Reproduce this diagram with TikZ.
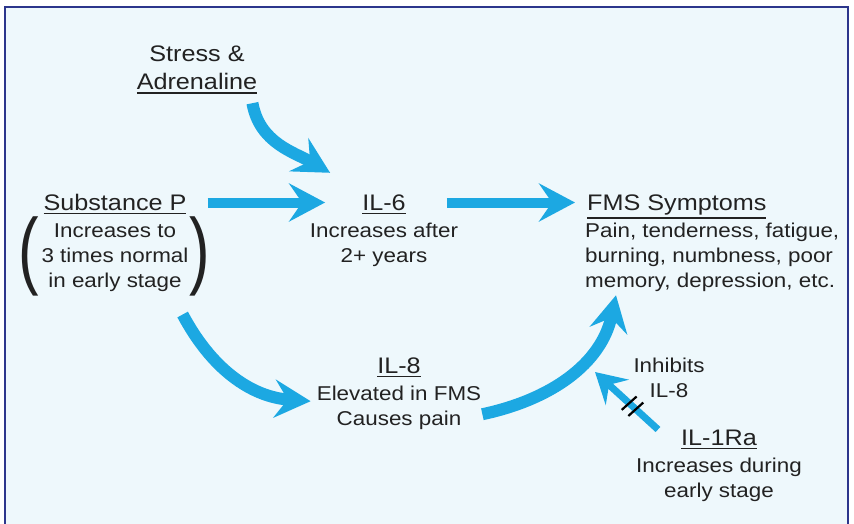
\documentclass[tikz,border=0pt]{standalone}
\usepackage{fontspec}
\setmainfont{Liberation Sans}[FakeStretch=1.12]
\usepackage{graphicx}
\usetikzlibrary{arrows.meta, positioning, decorations.markings}

\definecolor{bgblue}{RGB}{238,248,252}
\definecolor{framenavy}{RGB}{44,54,140}
\definecolor{flowblue}{RGB}{28,168,226}
\definecolor{textgray}{RGB}{34,34,34}

% underlined heading text
\newcommand{\ulhead}[1]{\setbox0\hbox{#1}\rlap{\raisebox{\dimexpr-\dp0-4pt\relax}[0pt][0pt]{\rule{\wd0}{1.6pt}}}\box0}

\begin{document}
\begin{tikzpicture}[
        x=1pt, y=1pt,
        every node/.style={inner sep=0pt, text=textgray},
        head/.style={font=\fontsize{22.5}{28}\selectfont, text height=15pt, text depth=0pt, anchor=base},
        body/.style={font=\fontsize{20}{25}\selectfont, align=center},
        paren/.style={font=\fontsize{55}{55}\selectfont},
        flow/.style={color=flowblue, line width=10pt, -{Stealth[length=36pt, width=38pt, inset=13pt]}},
        curvedflow/.style={flow, line width=12pt},
        inhibit/.style={color=flowblue, line width=7pt, -{Stealth[length=30pt, width=34pt, inset=11pt]},
            postaction={decorate},
            decoration={markings, mark=at position 0.4 with {
                \draw[black, line width=2.2pt, -] (-5pt,-10pt) -- (-3pt,10pt);
                \draw[black, line width=2.2pt, -] (4pt,-10pt) -- (6pt,10pt);}}}
    ]

    \useasboundingbox (0,0) rectangle (854,-523);
    \fill[white] (0,0) rectangle (854,-523);
    \draw[framenavy, line width=2.5pt, fill=bgblue] (5,-7) rectangle (848,-535);

    % Stress
    \node[font=\fontsize{22.5}{28}\selectfont, align=center] (stress) at (197,-68) {Stress \&\\\ulhead{Adrenaline}};

    % Substance P
    \node[head] (subp) at (115,-210) {\ulhead{Substance P}};
    \node[body, below=13pt of subp] (subptxt) {Increases to\\3 times normal\\in early stage};
    \node[paren] (lpar) at (29,-256) {\scalebox{1}[1.55]{(}};
    \node[paren] (rpar) at (200,-256) {\scalebox{1}[1.55]{)}};

    % IL-6
    \node[head] (il6) at (384,-210) {\ulhead{IL-6}};
    \node[body, below=13pt of il6] (il6txt) {Increases after\\2+ years};

    % FMS Symptoms
    \node[head, anchor=base west] (fms) at (587,-210) {\ulhead{FMS Symptoms}};
    \node[body, align=left, below=13pt of fms.south west, anchor=north west, xshift=-2pt] (fmstxt) {Pain, tenderness, fatigue,\\burning, numbness, poor\\memory, depression, etc.};

    % IL-8
    \node[head] (il8) at (399,-373) {\ulhead{IL-8}};
    \node[body, below=13pt of il8] (il8txt) {Elevated in FMS\\Causes pain};

    % IL-1Ra
    \node[head] (il1ra) at (719,-445) {\ulhead{IL-1Ra}};
    \node[body, below=13pt of il1ra] (il1ratxt) {Increases during\\early stage};
    \node[body] (inhib) at (669,-378) {Inhibits\\IL-8};

    % Arrows
    \draw[curvedflow] ([shift={(-5,-13)}]stress.south east) to[out=-80, in=150] ([shift={(-32,22)}]il6.north west);
    \draw[flow, shorten <=21pt, shorten >=37pt] (subp.east) -- (il6.west);
    \draw[flow, shorten <=41pt, shorten >=12pt] (il6.east) -- (fms.west);
    \draw[curvedflow] ([shift={(-6,-23)}]subptxt.south east) to[out=-62, in=176] ([shift={(-6,-15)}]il8txt.north west);
    \draw[curvedflow] ([shift={(1,-6)}]il8txt.east) to[out=12, in=-102] ([shift={(31,-3)}]fmstxt.south west);
    \coordinate (il8hit) at (595,-372);
    \draw[inhibit] ([shift={(-23,8)}]il1ra.west) -- (il8hit);

\end{tikzpicture}
\end{document}
